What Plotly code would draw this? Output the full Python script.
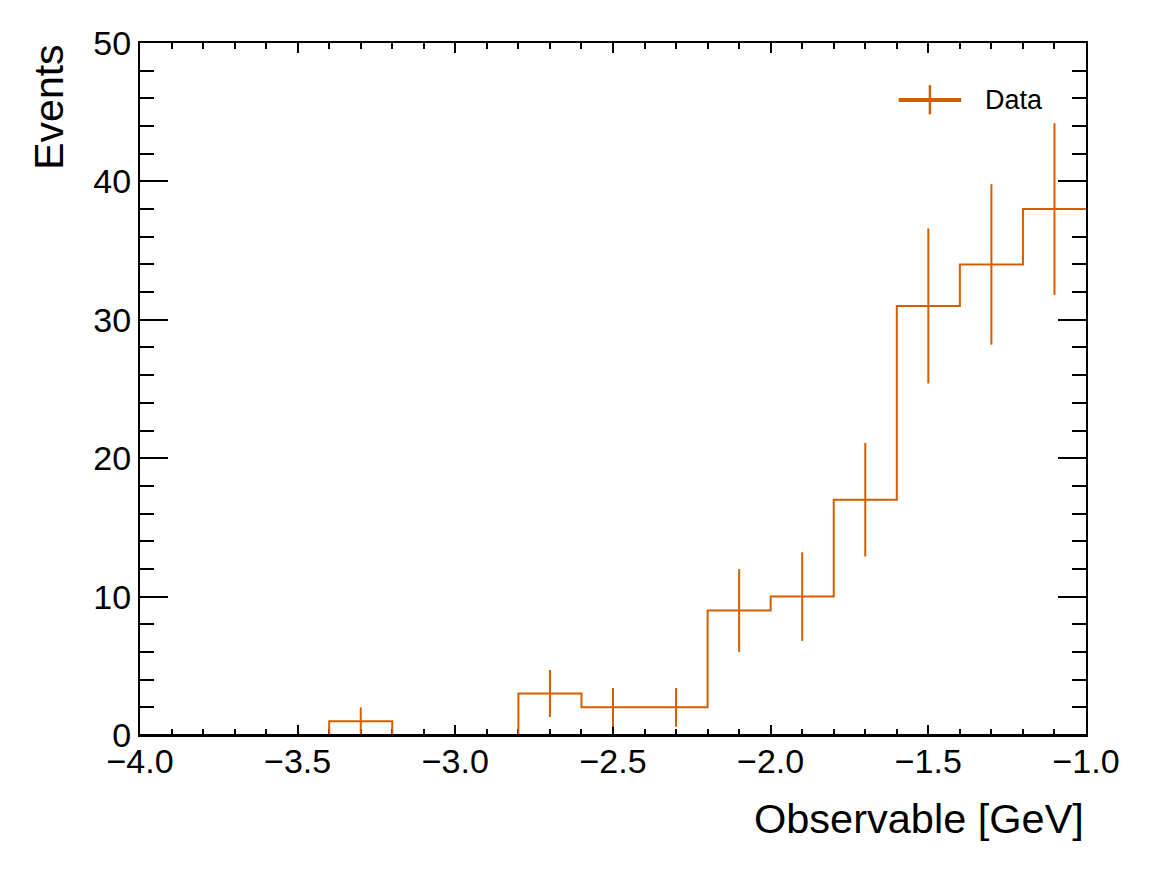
import plotly.graph_objects as go

# bin edges and counts of the histogram
bin_edges = [-4.0, -3.8, -3.6, -3.4, -3.2, -3.0, -2.8, -2.6, -2.4, -2.2,
             -2.0, -1.8, -1.6, -1.4, -1.2, -1.0]
counts = [0, 0, 0, 1, 0, 0, 3, 2, 2, 9, 10, 17, 31, 34, 38]

# error bars (only drawn for non-empty bins)
err_x = [-3.3, -2.7, -2.5, -2.3, -2.1, -1.9, -1.7, -1.5, -1.3, -1.1]
err_y = [1, 3, 2, 2, 9, 10, 17, 31, 34, 38]
err_size = [1.0, 1.7, 1.4, 1.4, 3.0, 3.2, 4.1, 5.6, 5.8, 6.2]

orange = "#d55e00"
font_family = "Liberation Sans, Arial, Helvetica, sans-serif"

fig = go.Figure()

fig.add_trace(go.Scatter(
    x=bin_edges,
    y=counts + [counts[-1]],
    mode="lines",
    line=dict(color=orange, width=2, shape="hv"),
    showlegend=False,
    hoverinfo="skip",
))

fig.add_trace(go.Scatter(
    x=err_x,
    y=err_y,
    mode="markers",
    marker=dict(size=1, color=orange, opacity=0),
    error_y=dict(type="data", array=err_size, visible=True,
                 color=orange, thickness=2, width=0),
    showlegend=False,
))

# bottom frame line drawn over the data so the empty bins stay hidden
fig.add_shape(type="line", xref="paper", yref="paper",
              x0=0, x1=1, y0=0, y1=0, layer="above",
              line=dict(color="black", width=2))

# legend drawn by hand (ROOT-like marker: line with vertical bar)
fig.add_shape(type="line", xref="paper", yref="paper",
              x0=0.802, x1=0.868, y0=0.9176, y1=0.9176,
              line=dict(color=orange, width=4))
fig.add_shape(type="line", xref="paper", yref="paper",
              x0=0.835, x1=0.835, y0=0.897, y1=0.939,
              line=dict(color=orange, width=2.5))
fig.add_annotation(text="Data", xref="paper", yref="paper",
                   x=0.891, y=0.9176, xanchor="left", yanchor="middle",
                   showarrow=False, font=dict(size=27, color="black"))

# axis titles, ROOT style (aligned to the end of the axes)
fig.add_annotation(text="Observable [GeV]", xref="paper", yref="paper",
                   x=1.0, y=-0.121, xanchor="right", yanchor="middle",
                   showarrow=False, font=dict(size=41.5, color="black"))
fig.add_annotation(text="Events", xref="paper", yref="paper",
                   x=-0.097, y=1.0, xanchor="center", yanchor="top",
                   textangle=-90, showarrow=False,
                   font=dict(size=41, color="black"))

fig.update_xaxes(
    range=[-4.0, -1.0],
    dtick=0.5, tick0=-4.0, tickformat=".1f",
    ticks="inside", ticklen=10, tickwidth=2, tickcolor="black",
    minor=dict(dtick=0.1, ticks="inside", ticklen=6, tickwidth=2, tickcolor="black"),
    showline=True, linecolor="black", linewidth=2, mirror="ticks",
    showgrid=False, zeroline=False, layer="below traces",
    tickfont=dict(size=34, color="black"),
    ticklabelstandoff=-5,
)
fig.update_yaxes(
    range=[0, 50],
    dtick=10, tick0=0,
    ticks="inside", ticklen=28, tickwidth=2, tickcolor="black",
    minor=dict(dtick=2, ticks="inside", ticklen=14, tickwidth=2, tickcolor="black"),
    showline=True, linecolor="black", linewidth=2, mirror="ticks",
    showgrid=False, zeroline=False, layer="below traces",
    tickfont=dict(size=34, color="black"),
)

fig.update_layout(
    width=1152, height=871,
    margin=dict(l=140, r=66, t=43, b=136),
    paper_bgcolor="white", plot_bgcolor="white",
    font=dict(family=font_family, color="black"),
    showlegend=False,
)

fig.write_html("out.html", config={"displayModeBar": False},
               post_script="document.body.style.margin='0';")
